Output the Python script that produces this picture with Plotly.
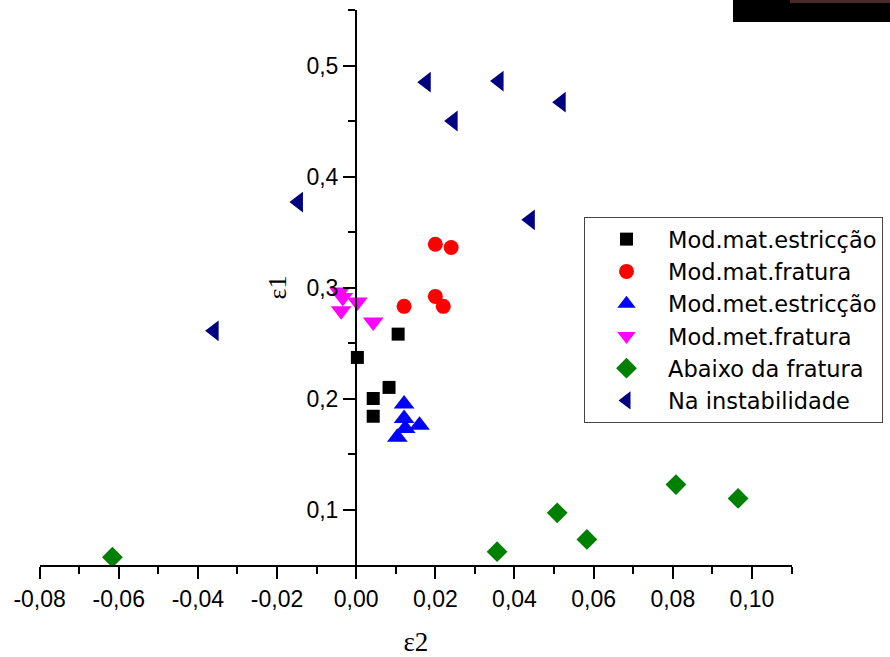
import plotly.graph_objects as go

W, H = 890, 657

# ---- data ----
mat_estr_x = [0.0003, 0.0106, 0.0083, 0.0043, 0.0043]
mat_estr_y = [0.237, 0.258, 0.210, 0.200, 0.184]

mat_frat_x = [0.0121, 0.0200, 0.0240, 0.0200, 0.0220]
mat_frat_y = [0.283, 0.339, 0.336, 0.292, 0.283]

met_estr_x = [0.0121, 0.0121, 0.0124, 0.0160, 0.0104]
met_estr_y = [0.195, 0.182, 0.173, 0.176, 0.165]

met_frat_x = [-0.0042, -0.0034, -0.0038, 0.0003, 0.0043]
met_frat_y = [0.296, 0.291, 0.279, 0.287, 0.269]

abaixo_x = [-0.0616, 0.0356, 0.0508, 0.0583, 0.0808, 0.0965]
abaixo_y = [0.057, 0.062, 0.097, 0.073, 0.1225, 0.110]

instab_x = [-0.0359, -0.0146, 0.0177, 0.0361, 0.0518, 0.0245, 0.0440]
instab_y = [0.261, 0.377, 0.485, 0.486, 0.467, 0.450, 0.361]

names = ["Mod.mat.estricção", "Mod.mat.fratura", "Mod.met.estricção",
         "Mod.met.fratura", "Abaixo da fratura", "Na instabilidade"]

x_tickvals = [-0.08, -0.06, -0.04, -0.02, 0.00, 0.02, 0.04, 0.06, 0.08, 0.10]
x_ticktext = ["-0,08", "-0,06", "-0,04", "-0,02", "0,00", "0,02", "0,04", "0,06", "0,08", "0,10"]
x_minor = [-0.07, -0.05, -0.03, -0.01, 0.01, 0.03, 0.05, 0.07, 0.09, 0.11]
y_tickvals = [0.1, 0.2, 0.3, 0.4, 0.5]
y_ticktext = ["0,1", "0,2", "0,3", "0,4", "0,5"]
y_minor = [0.15, 0.25, 0.35, 0.45, 0.55]

series = [
    (mat_estr_x, mat_estr_y, "square", "#000000", 13),
    (mat_frat_x, mat_frat_y, "circle", "#ff0000", 15),
    (met_estr_x, met_estr_y, "triangle-up", "#0000ff", 18),
    (met_frat_x, met_frat_y, "triangle-down", "#ff00ff", 18),
    (abaixo_x, abaixo_y, "diamond", "#008000", 16),
    (instab_x, instab_y, "triangle-left", "#000080", 18),
]

fig = go.Figure()
for (xs, ys, sym, col, sz), nm in zip(series, names):
    fig.add_trace(go.Scatter(x=xs, y=ys, mode="markers", name=nm,
                             marker=dict(symbol=sym, color=col, size=sz,
                                         line=dict(width=0))))

x0px, x1px = 39.6, 792.3
ytop, ybot = 10, 565
tickfont = dict(family="Liberation Sans, Arial, sans-serif", size=23, color="black")

fig.update_layout(
    width=W, height=H,
    margin=dict(l=0, r=0, t=0, b=0, autoexpand=False),
    paper_bgcolor="white", plot_bgcolor="white",
    showlegend=True,
    legend=dict(x=584 / W, y=(H - 217) / H, xanchor="left", yanchor="top",
                bgcolor="white", bordercolor="#444444", borderwidth=1,
                font=dict(family="DejaVu Sans, Liberation Sans, sans-serif", size=22.5, color="black"),
                itemwidth=73, tracegroupgap=0),
    xaxis=dict(domain=[x0px / W, x1px / W], range=[-0.08, 0.1102], automargin=False,
               showgrid=False, zeroline=False, showline=True, linecolor="black", linewidth=2,
               ticks="outside", ticklen=12, tickwidth=2, tickcolor="black",
               tickmode="array", tickvals=x_tickvals, ticktext=x_ticktext,
               minor=dict(tickmode="array", tickvals=x_minor, ticks="outside", ticklen=7,
                          tickwidth=2, tickcolor="black"),
               tickfont=tickfont,
               title=dict(text="ε2", standoff=33,
                          font=dict(family="Liberation Serif, Times New Roman, serif", size=27, color="black"))),
    yaxis=dict(domain=[(H - ybot) / H, (H - ytop) / H], range=[0.05, 0.55], automargin=False,
               anchor="free", position=356 / W,
               showgrid=False, zeroline=False, showline=True, linecolor="black", linewidth=2,
               ticks="outside", ticklen=12, tickwidth=2, tickcolor="black",
               tickmode="array", tickvals=y_tickvals, ticktext=y_ticktext,
               minor=dict(tickmode="array", tickvals=y_minor, ticks="outside", ticklen=7,
                          tickwidth=2, tickcolor="black"),
               tickfont=tickfont,
               title=dict(text="ε1", standoff=11,
                          font=dict(family="Liberation Serif, Times New Roman, serif", size=26, color="black"))),
    shapes=[
        dict(type="rect", xref="paper", yref="paper", x0=733 / W, x1=1.0,
             y0=(H - 22) / H, y1=1.0, fillcolor="black", line=dict(width=0), layer="above"),
        dict(type="rect", xref="paper", yref="paper", x0=790 / W, x1=1.0,
             y0=(H - 3) / H, y1=1.0, fillcolor="#4a2a2a", line=dict(width=0), layer="above"),
    ],
)

fig.write_html("out.html")
